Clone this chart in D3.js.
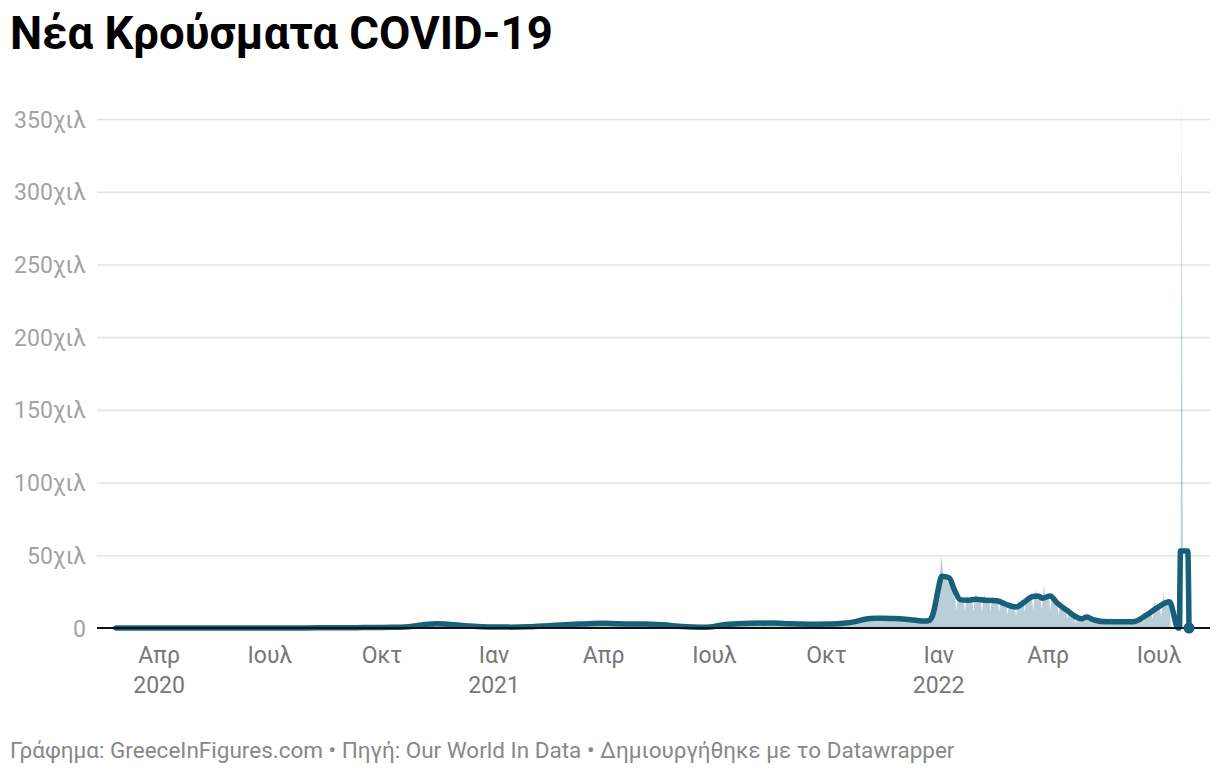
<!DOCTYPE html>
<html><head><meta charset="utf-8">
<script src="https://cdn.jsdelivr.net/npm/d3@7"></script>
<style>
body{margin:0;background:#fff;}
svg{display:block;font-family:Roboto, "Noto Sans", sans-serif;}
</style></head><body>
<svg id="chart" width="1220" height="774"></svg>
<script>
// 7-day average of new cases [date, cases]
const avgSeries = [
["2020-02-26",0],["2020-03-10",20],["2020-03-25",70],["2020-04-10",60],["2020-04-25",30],
["2020-05-15",10],["2020-06-15",10],["2020-07-05",20],["2020-07-25",50],["2020-08-10",170],
["2020-08-25",230],["2020-09-10",250],["2020-09-25",330],["2020-10-10",450],["2020-10-20",650],
["2020-10-31",1700],["2020-11-08",2600],["2020-11-15",2950],["2020-11-22",2800],["2020-11-29",2300],
["2020-12-06",1800],["2020-12-13",1300],["2020-12-23",800],["2021-01-01",650],["2021-01-15",600],
["2021-01-30",850],["2021-02-15",1600],["2021-03-01",2300],["2021-03-15",2800],["2021-04-01",3300],
["2021-04-12",3000],["2021-04-22",2800],["2021-05-05",2800],["2021-05-20",2200],["2021-06-05",1000],
["2021-06-20",550],["2021-06-30",900],["2021-07-10",2500],["2021-07-20",2900],["2021-08-01",3200],
["2021-08-17",3400],["2021-09-02",2900],["2021-09-23",2600],["2021-10-05",2700],["2021-10-15",3200],
["2021-10-25",4400],["2021-11-03",6200],["2021-11-10",6700],["2021-11-17",6700],["2021-11-25",6500],
["2021-12-03",6200],["2021-12-12",5500],["2021-12-21",4800],["2021-12-25",5300],["2021-12-28",10000],
["2022-01-01",26000],["2022-01-04",35500],["2022-01-10",34500],["2022-01-15",25000],["2022-01-19",19500],
["2022-01-25",19000],["2022-02-01",19800],["2022-02-09",19000],["2022-02-18",18800],["2022-02-25",16500],
["2022-03-06",14500],["2022-03-13",18000],["2022-03-19",21500],["2022-03-24",22000],["2022-03-28",20500],
["2022-04-03",22000],["2022-04-09",17000],["2022-04-17",12000],["2022-04-25",7300],["2022-04-29",6300],
["2022-05-03",7600],["2022-05-09",5500],["2022-05-20",4300],["2022-06-10",4300],["2022-06-21",8800],
["2022-06-30",14000],["2022-07-10",18000],["2022-07-17",0],["2022-07-18",0],["2022-07-19",53000],
["2022-07-25",53000],["2022-07-26",0]
];

// daily new cases [date, cases]
const dailySeries = [
["2020-02-26",0],["2020-03-25",80],["2020-04-20",40],["2020-06-15",10],["2020-08-10",180],
["2020-09-25",350],["2020-10-20",700],["2020-11-01",1900],["2020-11-12",3000],["2020-11-22",2700],
["2020-12-06",1700],["2020-12-23",800],["2021-01-15",600],["2021-02-15",1600],["2021-03-15",2800],
["2021-04-01",3300],["2021-05-05",2700],["2021-06-20",500],["2021-07-20",2900],["2021-08-17",3300],
["2021-09-23",2500],["2021-10-15",3100],["2021-11-03",6200],["2021-11-17",6600],["2021-11-28",6400],
["2021-12-05",5000],["2021-12-07",7000],["2021-12-12",4300],["2021-12-14",6200],["2021-12-19",4000],
["2021-12-21",5800],["2021-12-24",6000],["2021-12-26",6500],["2021-12-28",15000],["2021-12-30",29000],
["2022-01-01",35000],["2022-01-02",32000],["2022-01-03",43000],["2022-01-04",49000],["2022-01-05",37000],
["2022-01-07",36000],["2022-01-09",31000],["2022-01-11",33000],["2022-01-13",24000],["2022-01-15",19500],
["2022-01-16",12000],["2022-01-17",19000],["2022-01-18",21000],["2022-01-19",19000],["2022-01-22",19000],
["2022-01-23",11500],["2022-01-24",19000],["2022-01-25",22000],["2022-01-26",19000],["2022-01-29",19000],
["2022-01-30",11000],["2022-01-31",19500],["2022-02-01",24000],["2022-02-02",19500],["2022-02-05",19000],
["2022-02-06",11000],["2022-02-07",19000],["2022-02-08",23000],["2022-02-09",19000],["2022-02-12",18500],
["2022-02-13",11000],["2022-02-14",18500],["2022-02-15",22000],["2022-02-16",18500],["2022-02-19",18000],
["2022-02-20",10500],["2022-02-21",17500],["2022-02-22",21000],["2022-02-23",17000],["2022-02-26",15500],
["2022-02-27",9000],["2022-02-28",15000],["2022-03-01",18000],["2022-03-02",14500],["2022-03-05",14000],
["2022-03-06",8500],["2022-03-07",14500],["2022-03-08",20000],["2022-03-09",16000],["2022-03-12",18000],
["2022-03-13",10500],["2022-03-14",19000],["2022-03-15",24000],["2022-03-16",20500],["2022-03-19",21000],
["2022-03-20",12000],["2022-03-21",21500],["2022-03-22",26500],["2022-03-23",22000],["2022-03-26",21000],
["2022-03-27",12500],["2022-03-28",21000],["2022-03-29",29500],["2022-03-30",22000],["2022-04-02",21000],
["2022-04-03",12000],["2022-04-04",20000],["2022-04-05",25000],["2022-04-06",18500],["2022-04-09",16000],
["2022-04-10",9000],["2022-04-11",15000],["2022-04-12",18500],["2022-04-13",13500],["2022-04-16",11000],
["2022-04-17",6000],["2022-04-18",10000],["2022-04-19",13000],["2022-04-20",9500],["2022-04-23",7000],
["2022-04-24",3000],["2022-04-25",6500],["2022-04-26",9500],["2022-04-27",7500],["2022-04-30",7000],
["2022-05-01",4000],["2022-05-02",7000],["2022-05-03",10000],["2022-05-04",7000],["2022-05-07",5500],
["2022-05-08",3000],["2022-05-09",5000],["2022-05-10",7000],["2022-05-11",5000],["2022-05-14",4500],
["2022-05-15",2500],["2022-05-16",4000],["2022-05-17",6000],["2022-05-18",4200],["2022-05-21",4200],
["2022-05-22",2300],["2022-05-23",4000],["2022-05-24",5800],["2022-05-25",4200],["2022-05-28",4000],
["2022-05-29",2200],["2022-05-30",4000],["2022-05-31",5500],["2022-06-01",4200],["2022-06-04",4000],
["2022-06-05",2200],["2022-06-06",4000],["2022-06-07",5800],["2022-06-08",4300],["2022-06-11",4500],
["2022-06-12",2500],["2022-06-13",5000],["2022-06-14",7000],["2022-06-15",5500],["2022-06-18",7000],
["2022-06-19",4000],["2022-06-20",8000],["2022-06-21",11000],["2022-06-22",9000],["2022-06-25",11000],
["2022-06-26",6000],["2022-06-27",12000],["2022-06-28",20000],["2022-06-29",13500],["2022-07-02",14500],
["2022-07-03",8500],["2022-07-04",15000],["2022-07-05",25000],["2022-07-06",17500],["2022-07-09",17500],
["2022-07-10",17000],["2022-07-11",0],["2022-07-19",0],["2022-07-20",364000],["2022-07-21",0],
["2022-07-26",0]
];

const yTicks = [0,50000,100000,150000,200000,250000,300000,350000];
const yTickLabels = ["0","50χιλ","100χιλ","150χιλ","200χιλ","250χιλ","300χιλ","350χιλ"];
const xTickDates = ["2020-04-01","2020-07-01","2020-10-01","2021-01-01","2021-04-01","2021-07-01","2021-10-01","2022-01-01","2022-04-01","2022-07-01"];
const xTickMonths = ["Απρ","Ιουλ","Οκτ","Ιαν","Απρ","Ιουλ","Οκτ","Ιαν","Απρ","Ιουλ"];
const xTickYears = ["2020","","","2021","","","","2022","",""];
const titleText = "Νέα Κρούσματα COVID-19";
const footerText = "Γράφημα: GreeceInFigures.com • Πηγή: Our World In Data • Δημιουργήθηκε με το Datawrapper";

const parse = d3.utcParse("%Y-%m-%d");
const avg = avgSeries.map(d => ({date: parse(d[0]), value: d[1]}));
const daily = dailySeries.map(d => ({date: parse(d[0]), value: d[1]}));

const svg = d3.select("#chart");
svg.append("rect").attr("width",1220).attr("height",774).attr("fill","#fff");

const plotLeft = 97, plotRight = 1210;
const x = d3.scaleUtc()
  .domain([parse("2020-02-26"), parse("2022-07-26")])
  .range([116, 1189]);
const y = d3.scaleLinear().domain([0, 350000]).range([628, 119]);

const lineColor = "#18607a";

// title
svg.append("text").attr("x", 10).attr("y", 49)
  .attr("font-size", 45.5).attr("font-weight", 700).attr("fill", "#000")
  .text(titleText);

// y axis with gridlines
const yAxis = d3.axisLeft(y).tickValues(yTicks)
  .tickFormat((d,i) => yTickLabels[i])
  .tickSize(-(plotRight - plotLeft)).tickPadding(11);
const gy = svg.append("g").attr("transform", `translate(${plotLeft},0)`).call(yAxis);
gy.select(".domain").remove();
gy.selectAll(".tick line").attr("stroke", "#e3e3e3").attr("stroke-width", 1.6)
  .filter(d => d === 0).attr("stroke", "none");
gy.selectAll(".tick text").attr("font-size", 23).attr("fill", "#a3a3a3")
  .attr("font-family", "Roboto").attr("dy", "0.35em");

// area (daily)
const area = d3.area().x(d => x(d.date)).y0(y(0)).y1(d => y(d.value)).curve(d3.curveLinear);
svg.append("path").datum(daily).attr("d", area)
  .attr("fill", lineColor).attr("fill-opacity", 0.3).attr("stroke", "none");

// line (7-day avg)
const line = d3.line().x(d => x(d.date)).y(d => y(d.value)).curve(d3.curveMonotoneX);
svg.append("path").datum(avg).attr("d", line)
  .attr("fill", "none").attr("stroke", lineColor).attr("stroke-width", 5.5)
  .attr("stroke-linejoin", "round").attr("stroke-linecap", "round");

// baseline
svg.append("line").attr("x1", plotLeft).attr("x2", plotRight)
  .attr("y1", y(0)).attr("y2", y(0)).attr("stroke", "#111").attr("stroke-width", 2);

// end dot
const last = avg[avg.length - 1];
svg.append("circle").attr("cx", x(last.date)).attr("cy", y(last.value)).attr("r", 5.5).attr("fill", lineColor);

// x axis
const xAxis = d3.axisBottom(x).tickValues(xTickDates.map(parse)).tickSize(0).tickFormat("");
const gx = svg.append("g").attr("transform", `translate(0,${y(0)})`).call(xAxis);
gx.select(".domain").remove();
gx.selectAll(".tick").each(function(d, i) {
  const t = d3.select(this).append("text").attr("text-anchor", "middle")
    .attr("font-size", 23).attr("fill", "#777").attr("font-family", "Roboto");
  t.append("tspan").attr("x", 0).attr("y", 35).text(xTickMonths[i]);
  if (xTickYears[i]) t.append("tspan").attr("x", 0).attr("y", 65).text(xTickYears[i]);
});

// footer
svg.append("text").attr("x", 10).attr("y", 758)
  .attr("font-size", 22.5).attr("fill", "#888").text(footerText);
</script>
</body></html>
